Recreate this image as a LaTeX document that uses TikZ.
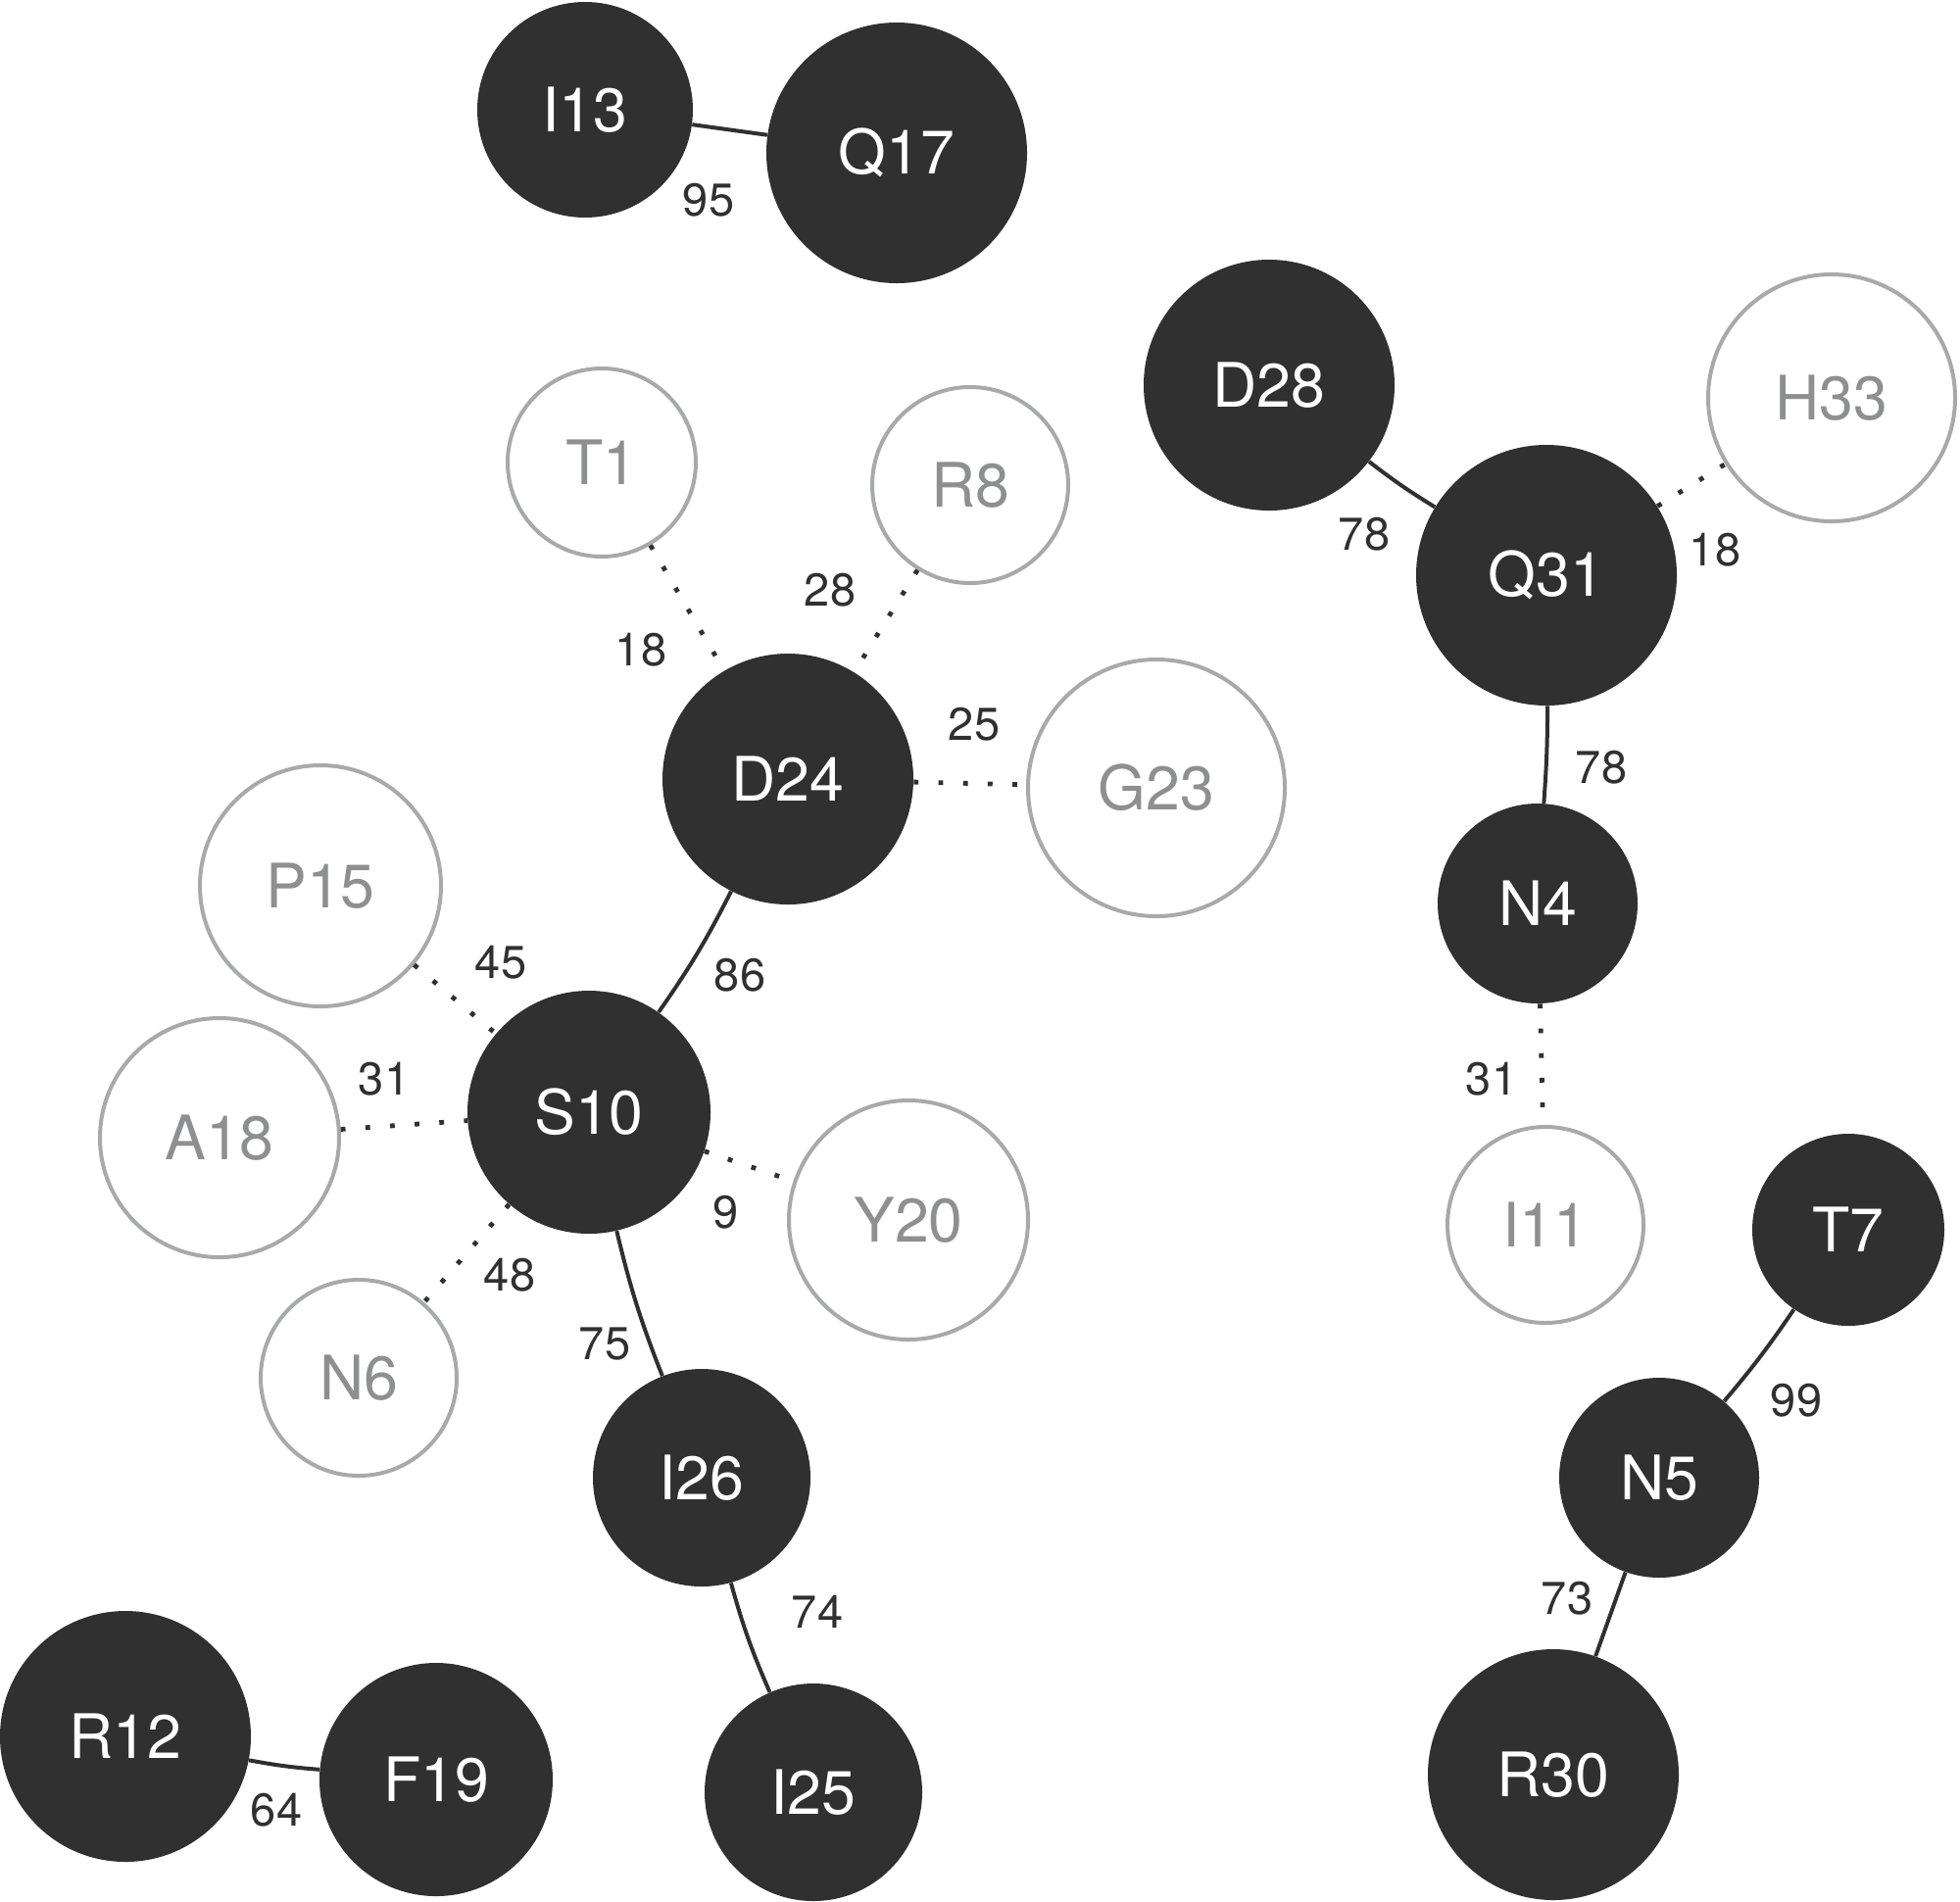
\documentclass[tikz,border=0pt]{standalone}
\usepackage{fontspec}
\setmainfont{TeX Gyre Heros}
\definecolor{darkfill}{HTML}{303030}
\definecolor{lightstroke}{HTML}{A8A9AB}
\definecolor{lighttext}{HTML}{8E8F91}
\definecolor{edgecol}{HTML}{303030}
\tikzset{
  darknode/.style={circle, fill=darkfill, draw=none, text=white, inner sep=0pt,
    font=\fontsize{31.3}{36}\selectfont},
  lightnode/.style={circle, fill=white, draw=lightstroke, line width=2pt, text=lighttext, inner sep=0pt,
    font=\fontsize{31.3}{36}\selectfont},
  wlabel/.style={text=edgecol, inner sep=0pt, font=\fontsize{23.5}{28}\selectfont},
  strong/.style={draw=edgecol, line width=2pt},
  weak/.style={draw=edgecol, line width=2.4pt, dash pattern=on 2.4pt off 10.2pt},
}
\begin{document}
\begin{tikzpicture}[x=0.5pt, y=-0.5pt]
\useasboundingbox (0,0) rectangle (2000,1940);
% nodes (minimum size in pt = radius in px)
\node[darknode, minimum size=110pt] (I13) at (597,112) {I13};
\node[darknode, minimum size=133pt] (Q17) at (915,156) {Q17};
\node[darknode, minimum size=128pt] (D28) at (1295,393) {D28};
\node[lightnode, minimum size=126pt] (H33) at (1869,406) {H33};
\node[lightnode, minimum size=96pt] (T1) at (614,472) {T1};
\node[lightnode, minimum size=100pt] (R8) at (990,495) {R8};
\node[darknode, minimum size=133pt] (Q31) at (1578,587) {Q31};
\node[darknode, minimum size=128pt] (D24) at (804,795) {D24};
\node[lightnode, minimum size=131pt] (G23) at (1180,804) {G23};
\node[lightnode, minimum size=123pt] (P15) at (327,904) {P15};
\node[darknode, minimum size=102pt] (N4) at (1569,922) {N4};
\node[darknode, minimum size=124pt] (S10) at (601,1135) {S10};
\node[lightnode, minimum size=122pt] (A18) at (224,1161) {A18};
\node[lightnode, minimum size=122pt] (Y20) at (927,1245) {Y20};
\node[lightnode, minimum size=100pt] (I11) at (1577,1250) {I11};
\node[darknode, minimum size=98pt] (T7) at (1886,1255) {T7};
\node[lightnode, minimum size=100pt] (N6) at (366,1406) {N6};
\node[darknode, minimum size=111pt] (I26) at (716,1508) {I26};
\node[darknode, minimum size=102pt] (N5) at (1693,1508) {N5};
\node[darknode, minimum size=128pt] (R12) at (128,1772) {R12};
\node[darknode, minimum size=119pt] (F19) at (445,1816) {F19};
\node[darknode, minimum size=111pt] (I25) at (830,1829) {I25};
\node[darknode, minimum size=128pt] (R30) at (1585,1811) {R30};
% edges
\draw[strong] (I13) -- (Q17);
\draw[strong] (D28) to[bend right=3] (Q31);
\draw[weak] (Q31) -- (H33);
\draw[weak] (T1) -- (D24);
\draw[weak] (R8) -- (D24);
\draw[weak] (D24) -- (G23);
\draw[strong] (D24) to[bend left=4] (S10);
\draw[strong] (Q31) to[bend left=2] (N4);
\draw[weak] (P15) -- (S10);
\draw[weak] (A18) -- (S10);
\draw[weak] (S10) -- (Y20);
\draw[weak] (S10) -- (N6);
\draw[strong] (S10) to[bend right=4] (I26);
\draw[weak] (N4) -- (I11);
\draw[strong] (T7) to[bend left=3] (N5);
\draw[strong] (I26) to[bend right=4] (I25);
\draw[strong] (N5) -- (R30);
\draw[strong] (R12) to[bend right=3] (F19);
% weights
\node[wlabel] (w1) at (723,204) {95};
\node[wlabel] (w2) at (1392,545) {78};
\node[wlabel] (w3) at (1750,561) {18};
\node[wlabel] (w4) at (654,663) {18};
\node[wlabel] (w5) at (847,602) {28};
\node[wlabel] (w6) at (994,739) {25};
\node[wlabel] (w7) at (755,995) {86};
\node[wlabel] (w8) at (1634,783) {78};
\node[wlabel] (w9) at (511,982) {45};
\node[wlabel] (w10) at (392,1101) {31};
\node[wlabel] (w11) at (741,1237) {9};
\node[wlabel] (w12) at (520,1301) {48};
\node[wlabel] (w13) at (617,1372) {75};
\node[wlabel] (w14) at (1522,1101) {31};
\node[wlabel] (w15) at (1833,1429) {99};
\node[wlabel] (w16) at (834,1645) {74};
\node[wlabel] (w17) at (1599,1631) {73};
\node[wlabel] (w18) at (282,1847) {64};
\end{tikzpicture}
\end{document}
